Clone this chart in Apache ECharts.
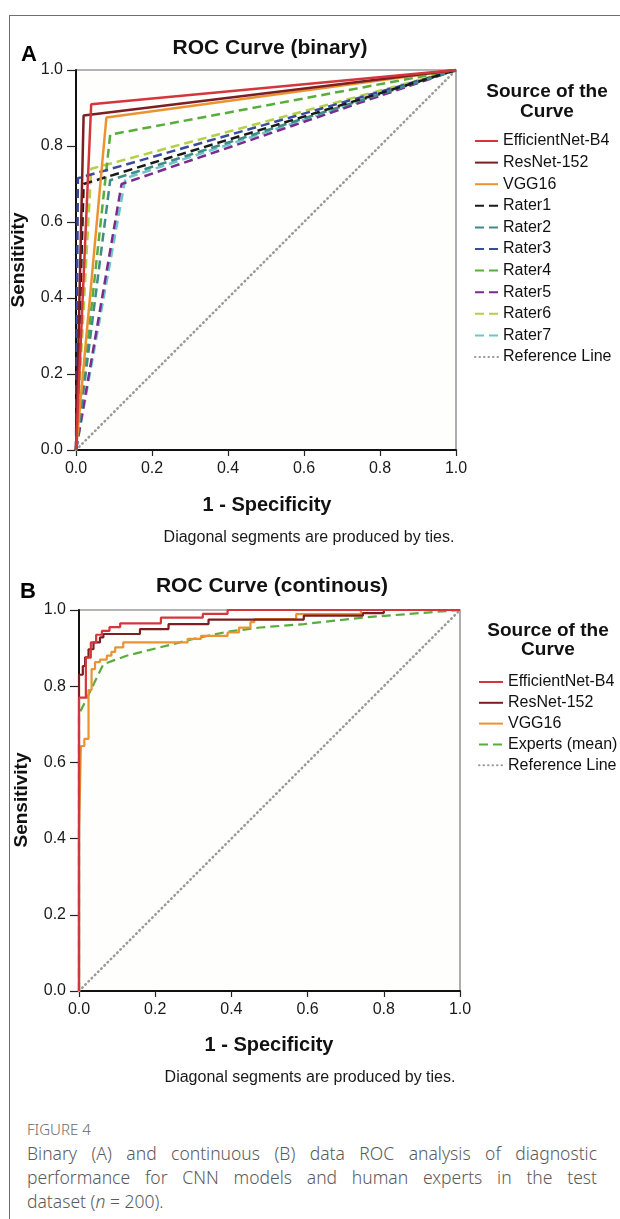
<!DOCTYPE html>
<html>
<head>
<meta charset="utf-8">
<script src="https://cdn.jsdelivr.net/npm/echarts@6/dist/echarts.min.js"></script>
<style>
  body { margin: 0; background: #fff; }
  #page { position: relative; width: 620px; height: 1219px; overflow: hidden; }
  #frame { position: absolute; left: 9px; top: 15px; right: -2px; bottom: -2px; border-left: 1px solid #6e6e6e; border-top: 1px solid #6e6e6e; }
  #chart { position: absolute; left: 0; top: 0; width: 620px; height: 1110px; }
  #caption { position: absolute; left: 27px; top: 1117px; width: 570px; font-family: 'Noto Sans', 'Open Sans', sans-serif; font-weight: 300; color: #5a5a5a; }
  .fig { font-size: 15px; line-height: 24px; color: #6a6a6a; }
  .cap { font-size: 17.5px; line-height: 24px; white-space: nowrap; }
  .just { text-align: justify; text-align-last: justify; }
</style>
</head>
<body>
<div id="page">
  <div id="frame"></div>
  <div id="chart"></div>
  <div id="caption">
    <div class="fig">FIGURE 4</div>
    <div class="cap just">Binary (A) and continuous (B) data ROC analysis of diagnostic</div>
    <div class="cap just">performance for CNN models and human experts in the test</div>
    <div class="cap">dataset (<i>n</i> = 200).</div>
  </div>
</div>
<script>
// A: binary ratings, one operating point per curve
var binaryNames = ['EfficientNet-B4', 'ResNet-152', 'VGG16', 'Rater1', 'Rater2', 'Rater3', 'Rater4', 'Rater5', 'Rater6', 'Rater7'];
var binaryFpr = [0.04, 0.02, 0.08, 0.02, 0.09, 0.005, 0.09, 0.12, 0.04, 0.13];
var binaryTpr = [0.91, 0.88, 0.875, 0.70, 0.71, 0.715, 0.83, 0.70, 0.74, 0.715];
var binaryColors = ['#d4373b', '#7b1f22', '#eb9331', '#1a1a1a', '#3f8c86', '#3a4a9e', '#58ad3d', '#7b2b8e', '#b3d046', '#6cc6cc'];

// B: continuous scores (ROC steps)
var effFpr = [0, 0, 0.018, 0.031, 0.045, 0.06, 0.08, 0.108, 0.215, 0.325, 0.39, 1];
var effTpr = [0, 0.77, 0.875, 0.915, 0.935, 0.945, 0.955, 0.965, 0.98, 0.99, 1, 1];
var resFpr = [0, 0, 0.01, 0.016, 0.025, 0.038, 0.055, 0.064, 0.16, 0.235, 0.34, 0.59, 0.745, 0.80, 1];
var resTpr = [0, 0.83, 0.853, 0.876, 0.897, 0.915, 0.928, 0.937, 0.95, 0.963, 0.975, 0.985, 0.992, 1, 1];
var vggFpr = [0, 0, 0.005, 0.014, 0.025, 0.033, 0.042, 0.055, 0.073, 0.085, 0.095, 0.116, 0.285, 0.32, 0.39, 0.42, 0.45, 0.46, 0.57, 0.74, 1];
var vggTpr = [0, 0.42, 0.643, 0.662, 0.79, 0.845, 0.863, 0.87, 0.88, 0.89, 0.902, 0.915, 0.924, 0.932, 0.941, 0.954, 0.968, 0.976, 0.989, 1, 1];
var expFpr = [0, 0, 0.064, 0.125, 0.213, 0.30, 0.39, 0.475, 0.59, 0.755, 1];
var expTpr = [0, 0.726, 0.858, 0.88, 0.902, 0.924, 0.943, 0.954, 0.963, 0.981, 1];
var refX = [0, 1];
var refY = [0, 1];

var legendB = ['EfficientNet-B4', 'ResNet-152', 'VGG16', 'Experts (mean)', 'Reference Line'];

var FONT = "'Liberation Sans', Arial, sans-serif";

function pairs(xs, ys) {
  return xs.map(function (x, i) { return [x, ys[i]]; });
}

function valueAxis(idx, isX) {
  return {
    type: 'value', gridIndex: idx, min: 0, max: 1, interval: 0.2,
    axisLine: { show: true, onZero: false, lineStyle: { color: '#111', width: 2 } },
    axisTick: { show: true, length: isX ? 6 : 9, lineStyle: { color: '#222', width: 1.2 } },
    axisLabel: {
      color: '#1a1a1a', fontSize: 16, fontFamily: FONT, margin: isX ? 11 : 13,
      formatter: function (v) { return v.toFixed(1); }
    },
    splitLine: { show: false }
  };
}

var chart = echarts.init(document.getElementById('chart'), null, { renderer: 'canvas' });

var series = [];
binaryNames.forEach(function (name, i) {
  series.push({
    name: name, type: 'line', xAxisIndex: 0, yAxisIndex: 0,
    data: [[0, 0], [binaryFpr[i], binaryTpr[i]], [1, 1]],
    symbol: 'none', silent: true, z: 10 - i,
    lineStyle: { color: binaryColors[i], width: 2.5, type: i < 3 ? 'solid' : [9, 5] },
    itemStyle: { color: binaryColors[i] }
  });
});
series.push({
  name: 'Reference Line', type: 'line', xAxisIndex: 0, yAxisIndex: 0,
  data: pairs(refX, refY), symbol: 'none', silent: true, z: 1,
  lineStyle: { color: '#9a9a9a', width: 2.6, type: [0.5, 4], cap: 'round' },
  itemStyle: { color: '#9a9a9a' }
});

var contSeries = [
  { name: 'EfficientNet-B4', fpr: effFpr, tpr: effTpr, color: '#d4373b', step: 'end' },
  { name: 'ResNet-152', fpr: resFpr, tpr: resTpr, color: '#7b1f22', step: 'end' },
  { name: 'VGG16', fpr: vggFpr, tpr: vggTpr, color: '#eb9331', step: 'end' },
  { name: 'Experts (mean)', fpr: expFpr, tpr: expTpr, color: '#58ad3d', step: false }
];
contSeries.forEach(function (s, i) {
  series.push({
    name: s.name, type: 'line', xAxisIndex: 1, yAxisIndex: 1,
    data: pairs(s.fpr, s.tpr), step: s.step,
    symbol: 'none', silent: true, z: 6 - i,
    lineStyle: { color: s.color, width: 2.2, type: s.step ? 'solid' : [9, 5] },
    itemStyle: { color: s.color }
  });
});
series.push({
  name: 'Reference Line', type: 'line', xAxisIndex: 1, yAxisIndex: 1,
  data: pairs(refX, refY), symbol: 'none', silent: true, z: 1,
  lineStyle: { color: '#9a9a9a', width: 2.6, type: [0.5, 4], cap: 'round' },
  itemStyle: { color: '#9a9a9a' }
});

var legendText = { fontSize: 16, fontFamily: FONT, color: '#111' };
// hide the round marker that line series put in their legend icon
var noMarker = { color: 'transparent', borderColor: 'transparent', borderWidth: 0, opacity: 0 };

var option = {
  animation: false,
  backgroundColor: 'transparent',
  grid: [
    { left: 76, top: 70, width: 380, height: 380, show: true, borderColor: '#9a9a9a', borderWidth: 1.6, backgroundColor: '#fefefc' },
    { left: 79, top: 610, width: 381, height: 381, show: true, borderColor: '#9a9a9a', borderWidth: 1.6, backgroundColor: '#fefefc' }
  ],
  xAxis: [valueAxis(0, true), valueAxis(1, true)],
  yAxis: [valueAxis(0, false), valueAxis(1, false)],
  legend: [
    {
      data: binaryNames.concat(['Reference Line']), orient: 'vertical',
      left: 474, top: 133, padding: 0, itemWidth: 23, itemHeight: 14, itemGap: 5.6,
      textStyle: legendText, selectedMode: false, itemStyle: noMarker
    },
    {
      data: legendB, orient: 'vertical',
      left: 478, top: 674, padding: 0, itemWidth: 24, itemHeight: 14, itemGap: 4.8,
      textStyle: legendText, selectedMode: false, itemStyle: noMarker
    }
  ],
  graphic: [
    { type: 'text', x: 29, y: 55, style: { text: 'A', font: "bold 22px " + FONT, fill: '#000', textAlign: 'center', textVerticalAlign: 'middle' } },
    { type: 'text', x: 270, y: 48, style: { text: 'ROC Curve (binary)', font: "bold 21px " + FONT, fill: '#111', textAlign: 'center', textVerticalAlign: 'middle' } },
    { type: 'text', x: 547, y: 92, style: { text: 'Source of the', font: "bold 19px " + FONT, fill: '#111', textAlign: 'center', textVerticalAlign: 'middle' } },
    { type: 'text', x: 547, y: 112, style: { text: 'Curve', font: "bold 19px " + FONT, fill: '#111', textAlign: 'center', textVerticalAlign: 'middle' } },
    { type: 'text', x: 19, y: 260, rotation: Math.PI / 2, style: { text: 'Sensitivity', font: "bold 19px " + FONT, fill: '#111', textAlign: 'center', textVerticalAlign: 'middle' } },
    { type: 'text', x: 267, y: 505, style: { text: '1 - Specificity', font: "bold 20px " + FONT, fill: '#111', textAlign: 'center', textVerticalAlign: 'middle' } },
    { type: 'text', x: 309, y: 538, style: { text: 'Diagonal segments are produced by ties.', font: "16px " + FONT, fill: '#1a1a1a', textAlign: 'center', textVerticalAlign: 'middle' } },

    { type: 'text', x: 28, y: 592, style: { text: 'B', font: "bold 22px " + FONT, fill: '#000', textAlign: 'center', textVerticalAlign: 'middle' } },
    { type: 'text', x: 272, y: 586, style: { text: 'ROC Curve (continous)', font: "bold 21px " + FONT, fill: '#111', textAlign: 'center', textVerticalAlign: 'middle' } },
    { type: 'text', x: 548, y: 631, style: { text: 'Source of the', font: "bold 19px " + FONT, fill: '#111', textAlign: 'center', textVerticalAlign: 'middle' } },
    { type: 'text', x: 548, y: 650, style: { text: 'Curve', font: "bold 19px " + FONT, fill: '#111', textAlign: 'center', textVerticalAlign: 'middle' } },
    { type: 'text', x: 22, y: 800, rotation: Math.PI / 2, style: { text: 'Sensitivity', font: "bold 19px " + FONT, fill: '#111', textAlign: 'center', textVerticalAlign: 'middle' } },
    { type: 'text', x: 269, y: 1045, style: { text: '1 - Specificity', font: "bold 20px " + FONT, fill: '#111', textAlign: 'center', textVerticalAlign: 'middle' } },
    { type: 'text', x: 310, y: 1078, style: { text: 'Diagonal segments are produced by ties.', font: "16px " + FONT, fill: '#1a1a1a', textAlign: 'center', textVerticalAlign: 'middle' } }
  ],
  series: series
};

chart.setOption(option);
</script>
</body>
</html>
